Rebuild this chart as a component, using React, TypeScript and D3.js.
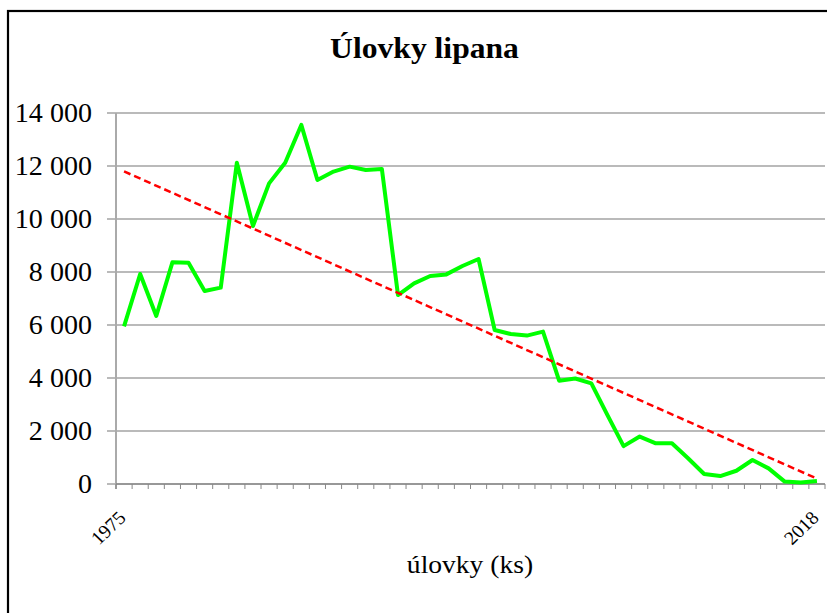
import React from "react";
import * as d3 from "d3";

const years: number[] = d3.range(1975, 2019);
const catches: number[] = [
  5950, 7925, 6340, 8365, 8350, 7280, 7410, 12125, 9735, 11345,
  12125, 13550, 11470, 11790, 11975, 11850, 11890, 7130, 7570, 7850,
  7910, 8225, 8490, 5810, 5660, 5600, 5750, 3900, 3980, 3800,
  2600, 1430, 1790, 1535, 1535, 970, 377, 300, 500, 905,
  590, 90, 60, 110,
];
const yTicks: number[] = [0, 2000, 4000, 6000, 8000, 10000, 12000, 14000];
const shownYearLabels: number[] = [1975, 2018];
const title = "Úlovky lipana";
const xTitle = "úlovky (ks)";

const W = 827;
const H = 613;
const plotLeft = 116;
const plotRight = 825;
const plotTop = 113;
const plotBottom = 484;

const fmt = (v: number) => d3.format(",")(v).replace(/,/g, " ");
const serif = { fontFamily: '"Liberation Serif", "Times New Roman", Tinos, "DejaVu Serif", serif' };

export default function App() {
  const x = d3.scaleBand<number>().domain(years).range([plotLeft, plotRight]).padding(0);
  const cx = (yr: number) => (x(yr) as number) + x.bandwidth() / 2;
  const y = d3.scaleLinear().domain([0, 14000]).range([plotBottom, plotTop]);

  const pts = years.map((yr, i) => [cx(yr), y(catches[i])] as [number, number]);
  const line = d3.line<[number, number]>()(pts) as string;

  // least-squares trend
  const n = catches.length;
  const idx = d3.range(n);
  const mx = d3.mean(idx) as number;
  const my = d3.mean(catches) as number;
  const sxy = d3.sum(idx, (i) => (i - mx) * (catches[i] - my));
  const sxx = d3.sum(idx, (i) => (i - mx) * (i - mx));
  const slope = sxy / sxx;
  const icpt = my - slope * mx;
  const t0 = icpt;
  const t1 = icpt + slope * (n - 1);

  const boundaries = d3.range(years.length + 1).map((i) => plotLeft + i * x.bandwidth());

  return (
    <svg width={W} height={H} style={{ position: "absolute", left: 0, top: 0, background: "#fff" }}>
      <rect x={0} y={0} width={W} height={H} fill="#fff" />
      <rect x={8} y={11} width={860} height={640} fill="none" stroke="#000" strokeWidth={2.2} />
      <text
        transform="translate(424.5,58) scale(1.09,1)"
        textAnchor="middle"
        style={serif}
        fontWeight="bold"
        fontSize={29}
        fill="#000"
      >
        {title}
      </text>
      {yTicks.map((t) => (
        <g key={t}>
          <line x1={107} x2={plotRight} y1={y(t)} y2={y(t)} stroke="#777" strokeWidth={1.2} />
          <text
            transform={`translate(92,${y(t) + 9}) scale(1.04,1)`}
            textAnchor="end"
            style={serif}
            fontSize={27}
            fill="#000"
          >
            {fmt(t)}
          </text>
        </g>
      ))}
      <line x1={plotLeft} x2={plotLeft} y1={plotTop} y2={plotBottom + 5} stroke="#aaa" strokeWidth={2} />
      <line x1={plotLeft} x2={plotRight} y1={plotBottom} y2={plotBottom} stroke="#777" strokeWidth={1.2} />
      {boundaries.map((bx, i) => (
        <line key={i} x1={bx} x2={bx} y1={plotBottom} y2={plotBottom + 5} stroke="#888" strokeWidth={1} />
      ))}
      {shownYearLabels.map((yr) => (
        <text
          key={yr}
          transform={`translate(${cx(yr) + 3},${519}) scale(1.04,1) rotate(-45)`}
          textAnchor="end"
          style={serif}
          fontSize={19}
          fill="#000"
        >
          {yr}
        </text>
      ))}
      <path d={line} fill="none" stroke="#00ff00" strokeWidth={4} strokeLinejoin="round" />
      <line
        x1={cx(years[0])}
        x2={cx(years[n - 1])}
        y1={y(t0)}
        y2={y(t1)}
        stroke="#ff0000"
        strokeWidth={2.5}
        strokeDasharray="7,4"
      />
      <text
        transform="translate(470,573) scale(1.06,1)"
        textAnchor="middle"
        style={serif}
        fontSize={26}
        fill="#000"
      >
        {xTitle}
      </text>
    </svg>
  );
}
